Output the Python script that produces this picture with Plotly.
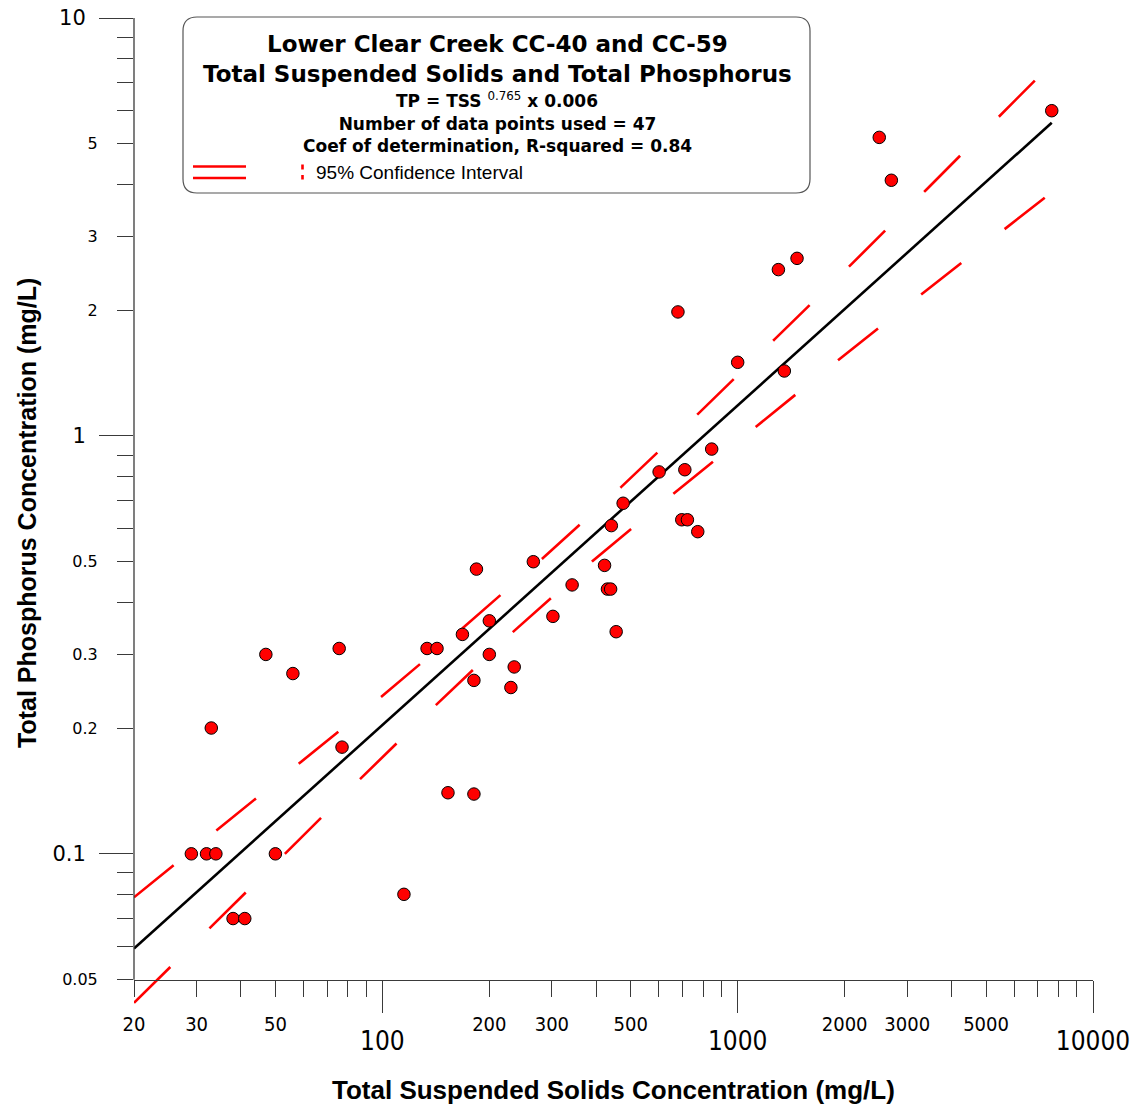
import math
import plotly.graph_objects as go

# Paired samples, Lower Clear Creek CC-40 and CC-59 (mg/L)
tss = [20, 29, 32, 34, 50, 33, 38, 41, 47, 56, 75.6, 77, 115, 133.6, 142.5,
       153, 181, 168, 200, 200, 181, 235, 230, 184, 266, 302, 342, 422, 430,
       439, 455, 441, 476, 601, 710, 696, 722, 772, 845, 7654, 2503, 2707,
       1302, 1469, 679, 1000, 1353]
tp = [0.06, 0.1, 0.1, 0.1, 0.1, 0.2, 0.07, 0.07, 0.3, 0.27, 0.31, 0.18, 0.08,
      0.31, 0.31, 0.14, 0.139, 0.335, 0.361, 0.3, 0.26, 0.28, 0.25, 0.48, 0.5,
      0.37, 0.44, 0.49, 0.43, 0.43, 0.34, 0.61, 0.69, 0.82, 0.83, 0.63, 0.63,
      0.59, 0.93, 6.0, 5.18, 4.09, 2.5, 2.66, 1.98, 1.5, 1.43]

# Power-law fit TP = coef * TSS^exp
fit_coef = 0.006
fit_exp = 0.765
r_squared = 0.84

# 95% confidence band of the fit
ci_upper_tss = [20, 34.0, 58.3, 99.1, 168.1, 282.7, 469.6, 774.9, 1274, 2081,
                3390, 5511, 7654]
ci_upper_tp = [0.0787, 0.1135, 0.1639, 0.2371, 0.3467, 0.5097, 0.754, 1.131,
               1.707, 2.566, 3.877, 5.892, 7.78]
ci_lower_tss = [20, 32.37, 52.88, 86.11, 141.3, 232.8, 389.1, 662.1, 1131,
                1932, 3318, 5718, 7654]
ci_lower_tp = [0.0440, 0.0658, 0.0995, 0.1503, 0.2268, 0.3392, 0.5004, 0.7294,
               1.057, 1.526, 2.195, 3.157, 3.83]

# Axis ticks
x_major = [100, 1000, 10000]
x_major_text = ["100", "1000", "10000"]
x_minor = [20, 30, 40, 50, 60, 70, 80, 90,
           200, 300, 400, 500, 600, 700, 800, 900,
           2000, 3000, 4000, 5000, 6000, 7000, 8000, 9000]
x_minor_labeled = [20, 30, 50, 200, 300, 500, 2000, 3000, 5000]
x_minor_text = ["20", "30", "50", "200", "300", "500", "2000", "3000", "5000"]
y_major = [0.1, 1, 10]
y_major_text = ["0.1", "1", "10"]
y_minor = [0.05, 0.06, 0.07, 0.08, 0.09,
           0.2, 0.3, 0.4, 0.5, 0.6, 0.7, 0.8, 0.9,
           2, 3, 4, 5, 6, 7, 8, 9]
y_minor_labeled = [0.05, 0.2, 0.3, 0.5, 2, 3, 5]
y_minor_text = ["0.05", "0.2", "0.3", "0.5", "2", "3", "5"]

X_RANGE = [math.log10(20), 4]
Y_RANGE = [math.log10(0.043), 1]
Y_BASE = 0.05  # level where the horizontal axis sits

W, H = 1136, 1107
ML, MR, MT, MB = 134, 43, 18, 100
PW, PH = W - ML - MR, H - MT - MB


def px(xp):
    return (xp - ML) / PW


def py(yp):
    return 1 - (yp - MT) / PH


base_pos = (math.log10(Y_BASE) - Y_RANGE[0]) / (Y_RANGE[1] - Y_RANGE[0])

AXIS = "#3a3a3a"
RED = "#ff0000"
NARROW = "Liberation Sans Narrow, DejaVu Sans Condensed, Arial Narrow, sans-serif"
ARIAL = "Liberation Sans, Arial, sans-serif"
WIDE = "DejaVu Sans, Verdana, sans-serif"

fig = go.Figure()

dash = "51px,55px"
fig.add_trace(go.Scatter(x=ci_upper_tss, y=ci_upper_tp, mode="lines",
                         line=dict(color=RED, width=2.6, dash=dash),
                         hoverinfo="skip", showlegend=False))
fig.add_trace(go.Scatter(x=ci_lower_tss, y=ci_lower_tp, mode="lines",
                         line=dict(color=RED, width=2.6, dash=dash),
                         hoverinfo="skip", showlegend=False))

fit_x = [min(tss), max(tss)]
fit_y = [fit_coef * v ** fit_exp for v in fit_x]
fig.add_trace(go.Scatter(x=fit_x, y=fit_y, mode="lines",
                         line=dict(color="black", width=2.6),
                         hoverinfo="skip", showlegend=False))

fig.add_trace(go.Scatter(x=tss, y=tp, mode="markers",
                         marker=dict(size=12.5, color=RED,
                                     line=dict(color="black", width=1)),
                         cliponaxis=False, showlegend=False))

# Carriers so the overlaid label axes get drawn
fig.add_trace(go.Scatter(x=[], y=[], xaxis="x2", yaxis="y", showlegend=False))
fig.add_trace(go.Scatter(x=[], y=[], xaxis="x", yaxis="y2", showlegend=False))

common = dict(type="log", showgrid=False, zeroline=False, fixedrange=True,
              tickmode="array", ticks="outside", tickcolor=AXIS, tickwidth=1,
              automargin=False)

fig.update_layout(
    width=W, height=H,
    margin=dict(l=ML, r=MR, t=MT, b=MB),
    paper_bgcolor="white", plot_bgcolor="white",
    showlegend=False, hovermode=False,
    xaxis=dict(**common, range=X_RANGE, anchor="free", position=base_pos,
               showline=True, linecolor=AXIS, linewidth=1.3,
               tickvals=x_major, ticktext=x_major_text, ticklen=32,
               tickfont=dict(family=NARROW, size=26, color="black"),
               ticklabelstandoff=6,
               minor=dict(tickmode="array", tickvals=x_minor, ticks="outside",
                          ticklen=16, tickcolor=AXIS, tickwidth=1)),
    xaxis2=dict(**common, range=X_RANGE, overlaying="x", anchor="free",
                position=base_pos, showline=False,
                tickvals=x_minor_labeled, ticktext=x_minor_text, ticklen=16,
                tickfont=dict(family=NARROW, size=20, color="black"),
                ticklabelstandoff=10),
    yaxis=dict(**common, range=Y_RANGE, anchor="x", showline=False,
               tickvals=y_major, ticktext=y_major_text, ticklen=34,
               tickfont=dict(family=WIDE, size=21, color="black"),
               ticklabelstandoff=9,
               minor=dict(tickmode="array", tickvals=y_minor, ticks="outside",
                          ticklen=16, tickcolor=AXIS, tickwidth=1)),
    yaxis2=dict(**common, range=Y_RANGE, overlaying="y", anchor="x",
                side="left", showline=False,
                tickvals=y_minor_labeled, ticktext=y_minor_text, ticklen=16,
                tickfont=dict(family=WIDE, size=16, color="black"),
                ticklabelstandoff=16),
)

shapes = [
    # vertical axis line from the base level up to the top
    dict(type="line", xref="x domain", yref="y domain", x0=0, x1=0,
         y0=base_pos, y1=1, line=dict(color=AXIS, width=1.3)),
]

# rounded info box
bx0, by0, bx1, by1, r = 183, 17, 810, 193, 14
path = (f"M {px(bx0 + r)} {py(by0)} L {px(bx1 - r)} {py(by0)} "
        f"Q {px(bx1)} {py(by0)} {px(bx1)} {py(by0 + r)} "
        f"L {px(bx1)} {py(by1 - r)} Q {px(bx1)} {py(by1)} {px(bx1 - r)} {py(by1)} "
        f"L {px(bx0 + r)} {py(by1)} Q {px(bx0)} {py(by1)} {px(bx0)} {py(by1 - r)} "
        f"L {px(bx0)} {py(by0 + r)} Q {px(bx0)} {py(by0)} {px(bx0 + r)} {py(by0)} Z")
shapes.append(dict(type="path", xref="paper", yref="paper", path=path,
                   fillcolor="white", line=dict(color="#555555", width=1.2),
                   layer="below"))

# legend glyph: two band lines and a dotted marker
for yy in (166.5, 178):
    shapes.append(dict(type="line", xref="paper", yref="paper",
                       x0=px(193), x1=px(246), y0=py(yy), y1=py(yy),
                       line=dict(color=RED, width=2.6)))
for y0_, y1_ in ((164.5, 169.5), (175, 179.5)):
    shapes.append(dict(type="line", xref="paper", yref="paper",
                       x0=px(302.5), x1=px(302.5), y0=py(y0_), y1=py(y1_),
                       line=dict(color=RED, width=2.6)))

fig.update_layout(shapes=shapes)

n_points = len(tss)
ann = []


def text_at(x, y, text, size, family=WIDE, bold=True, xanchor="center", angle=0):
    ann.append(dict(xref="paper", yref="paper", x=px(x), y=py(y), text=text,
                    showarrow=False, xanchor=xanchor, yanchor="middle",
                    textangle=angle,
                    font=dict(family=family, size=size, color="black",
                              weight="bold" if bold else "normal")))


text_at(497, 59, "Lower Clear Creek CC-40 and CC-59<br>"
                 "Total Suspended Solids and Total Phosphorus", 23)
text_at(497, 100,
        f"TP = TSS <sup><span style='font-weight:normal'>{fit_exp}</span></sup> x {fit_coef}", 17)
text_at(497, 135, f"Number of data points used = {n_points}<br>"
                  f"Coef of determination, R-squared = {r_squared}", 17)
text_at(314, 172, "95% Confidence Interval", 19, family=ARIAL, bold=False,
        xanchor="left")

text_at(613, 1090, "Total Suspended Solids Concentration (mg/L)", 26, family=ARIAL)
text_at(27, 513, "Total Phosphorus Concentration (mg/L)", 25, family=ARIAL, angle=-90)

fig.update_layout(annotations=ann)

fig.write_html("out.html", config={"displayModeBar": False})
